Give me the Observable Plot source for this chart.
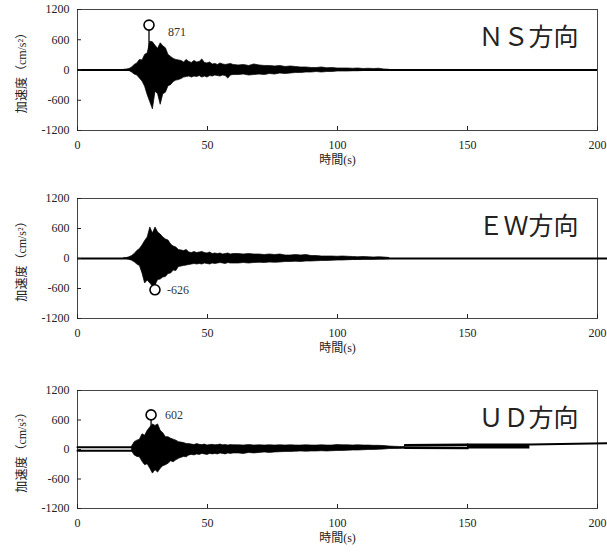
<!DOCTYPE html>
<html><head><meta charset="utf-8">
<script src="https://cdn.jsdelivr.net/npm/d3@7"></script>
<script src="https://cdn.jsdelivr.net/npm/@observablehq/plot@0.6"></script>
<style>
body{margin:0;background:#fff;}
#chart svg{display:block;}
</style></head><body><div id="chart"></div>
<script>
// ---- tick labels / categories ----
const xTicks = [0, 50, 100, 150, 200];
const yTicks = [-1200, -600, 0, 600, 1200];
const xLabel = "時間(s)";
const yLabel = "加速度（cm/s²）";
const titles = ["ＮＳ方向", "ＥＷ方向", "ＵＤ方向"];

// ---- sample times (s) of the read-off envelope ----
const sampleT = [18,19,20,21,22,23,24,25,26,27,28,29,30,31,32,33,34,35,36,37,38,39,40,41,42,43,44,45,46,47,48,49,50,51,52,53,54,55,56,57,58,59,60,
  62,64,66,68,70,72,74,76,78,80,82,84,86,88,90,92,94,96,98,100,102,104,106,108,110,112,114,116,118,120];

// ---- NS (cm/s^2) upper / lower envelope ----
const nsHi = [5,10,20,50,100,130,200,190,300,330,560,550,480,420,530,470,430,300,260,220,200,190,180,150,200,160,140,180,150,160,210,140,130,150,110,120,100,130,110,100,110,120,100,
  90,100,80,110,90,80,80,70,80,60,70,60,50,50,40,40,50,35,40,30,30,30,25,30,20,25,20,25,10,5];
const nsLo = [-5,-10,-20,-50,-90,-110,-170,-230,-330,-500,-640,-780,-430,-480,-690,-480,-450,-320,-300,-240,-210,-200,-180,-150,-140,-130,-150,-130,-140,-120,-150,-130,-150,-120,-130,-110,-120,-130,-110,-120,-170,-110,-100,
  -100,-90,-110,-100,-90,-100,-80,-90,-70,-80,-70,-60,-60,-50,-50,-40,-50,-40,-40,-30,-30,-30,-25,-25,-20,-20,-20,-20,-10,-5];

// ---- EW ----
const ewHi = [5,10,25,50,90,150,190,260,350,420,620,500,620,520,480,420,380,360,280,240,220,170,160,150,170,120,110,130,110,120,130,110,100,120,90,100,90,100,80,90,100,80,90,
  90,80,90,80,80,70,80,70,80,60,60,70,60,70,50,50,40,40,40,35,40,35,30,25,30,25,20,25,20,10];
const ewLo = [-5,-10,-25,-45,-75,-120,-150,-300,-500,-440,-500,-560,-540,-430,-420,-380,-370,-310,-300,-240,-250,-170,-160,-150,-140,-130,-120,-110,-120,-110,-120,-100,-110,-120,-100,-110,-100,-90,-100,-110,-90,-100,-100,
  -100,-90,-100,-90,-85,-90,-80,-85,-80,-70,-70,-65,-70,-60,-60,-55,-50,-50,-45,-40,-40,-35,-30,-30,-25,-25,-25,-20,-20,-10];

// ---- UD (own time samples, with baseline drift) ----
const udT = [21,22,23,24,25,26,27,28,29,30,31,32,33,34,35,36,37,38,39,40,41,42,43,44,45,46,47,48,49,50,51,52,53,54,55,56,57,58,59,60,
  62,64,66,68,70,72,74,76,78,80,82,84,86,88,90,92,94,96,98,100,102,104,106,108,110,112,114,116,118,120,122,124,126];
const udHi = [60,150,180,200,310,280,380,450,510,480,510,380,330,250,250,220,200,180,150,140,130,110,110,100,90,110,95,90,100,80,90,95,85,90,100,85,90,80,90,85,
  85,80,90,80,85,80,85,80,85,80,85,80,80,85,80,80,85,80,80,90,85,85,80,85,80,80,75,75,70,60,55,50,50];
const udLo = [-40,-120,-150,-160,-250,-320,-300,-390,-490,-420,-470,-390,-340,-320,-290,-240,-260,-220,-190,-170,-150,-160,-120,-110,-120,-100,-110,-90,-100,-110,-90,-100,-90,-100,-80,-90,-100,-80,-90,-80,
  -80,-90,-70,-80,-70,-60,-70,-60,-55,-50,-50,-45,-40,-45,-40,-40,-35,-40,-35,-30,-30,-25,-20,-20,-15,-10,-10,-5,0,10,10,12,15];
// UD drift traces outside the strong-motion part
const udPreT = [0, 21], udPreUpper = [45, 45], udPreLower = [-25, -25];
const udMidT = [126, 150], udMidUpper = [85, 95], udMidLower = [35, 28];
const udBandT = [150, 174], udBandHi = [110, 113], udBandLo = [8, 10];
const udEndT = [174, 204], udEndV = [100, 127];

// ---- maximum values ----
const peakT = [27.5, 29.8, 28.3];
const peakV = [871, -626, 602];

const font = '"Liberation Serif","Noto Sans CJK JP",serif';
const fmt = d => d < 0 ? "-" + Math.abs(d) : String(d);

function zip(t, a, b) { return t.map((tt, i) => ({t: tt, hi: a[i], lo: b[i]})); }
function pts(t, v) { return t.map((tt, i) => ({t: tt, v: v[i]})); }

function panel(k, env, opts) {
  const peak = [{t: peakT[k], v: peakV[k], label: fmt(peakV[k])}];
  const marks = [
    Plot.frame({stroke: "#444", strokeWidth: 1}),
    ...(opts.zeroLine ? [Plot.ruleY([0], {strokeWidth: 2.2, stroke: "#000", insetRight: opts.zeroExtend || 0})] : []),
    Plot.areaY(env, {x: "t", y1: "lo", y2: "hi", fill: "#000", stroke: "#000", strokeWidth: 0.7, curve: "linear"}),
    ...(opts.extra || []),
    Plot.ruleX(peak, {x: "t", y1: 0, y2: "v", stroke: "#000", strokeWidth: 1.3}),
    Plot.dot(peak, {x: "t", y: "v", r: 5, fill: "#fff", stroke: "#000", strokeWidth: 1.6, dy: opts.dotDy}),
    Plot.text(peak, {x: "t", y: "v", text: "label", textAnchor: "start", dx: opts.labDx, dy: opts.labDy, fontSize: 12, fill: "#333"}),
    Plot.text([titles[k]], {frameAnchor: "top-right", dx: -19, dy: 28, textAnchor: "end", lineAnchor: "middle", fontSize: 25, fill: "#222"}),
    Plot.axisY({ticks: yTicks, tickFormat: fmt, tickSize: -4, tickPadding: 12, label: null, fontSize: 12}),
    Plot.axisX({ticks: xTicks, tickFormat: fmt, tickSize: -4, tickPadding: 14, label: null, fontSize: 12}),
    Plot.text([xLabel], {frameAnchor: "bottom", dy: 30, lineAnchor: "middle", fontSize: 12, fill: "#222"}),
    Plot.text([yLabel], {frameAnchor: "left", dx: -55, rotate: -90, textAnchor: "middle", lineAnchor: "middle", fontSize: 12, fill: "#222"})
  ];
  return Plot.plot({
    width: 607, height: opts.height,
    marginLeft: 77, marginRight: 10, marginTop: opts.mt, marginBottom: opts.height - opts.mt - opts.fh,
    style: {fontFamily: font, fontSize: "12px", color: "#222", background: "#fff", overflow: "visible"},
    x: {domain: [0, 200]},
    y: {domain: [-1200, 1200]},
    marks
  });
}

const el = document.getElementById("chart");
el.append(panel(0, zip(sampleT, nsHi, nsLo), {height: 186, mt: 9, fh: 121, zeroLine: true, dotDy: -1, labDx: 19, labDy: 6}));
el.append(panel(1, zip(sampleT, ewHi, ewLo), {height: 190, mt: 12, fh: 120, zeroLine: true, zeroExtend: -10, dotDy: 0, labDx: 12, labDy: 0}));
el.append(panel(2, zip(udT, udHi, udLo), {height: 180, mt: 14, fh: 118, dotDy: -5, labDx: 14, labDy: -5,
  extra: [
    Plot.lineY(pts(udPreT, udPreUpper), {x: "t", y: "v", strokeWidth: 2, stroke: "#000"}),
    Plot.lineY(pts(udPreT, udPreLower), {x: "t", y: "v", strokeWidth: 2, stroke: "#000"}),
    Plot.lineY(pts(udMidT, udMidUpper), {x: "t", y: "v", strokeWidth: 2.5, stroke: "#000"}),
    Plot.lineY(pts(udMidT, udMidLower), {x: "t", y: "v", strokeWidth: 2.5, stroke: "#000"}),
    Plot.areaY(zip(udBandT, udBandHi, udBandLo), {x: "t", y1: "lo", y2: "hi", fill: "#000"}),
    Plot.lineY(pts(udEndT, udEndV), {x: "t", y: "v", strokeWidth: 2, stroke: "#000"})
  ]}));
</script></body></html>
